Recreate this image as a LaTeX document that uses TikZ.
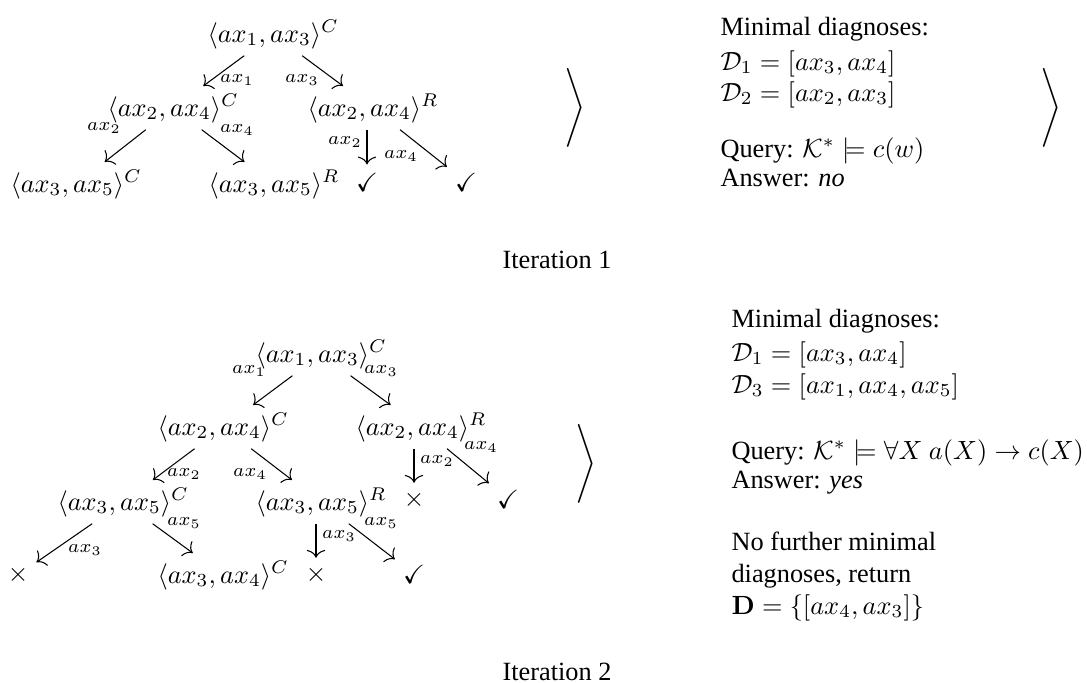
\documentclass[tikz,border=0pt]{standalone}
\usepackage{amsmath,amssymb}
\usepackage[no-math]{fontspec}
\setmainfont{Liberation Serif}
\usetikzlibrary{arrows.meta}

\tikzset{
  tnode/.style={anchor=base west, inner xsep=0pt, inner ysep=2.5pt},
  leaf/.style={inner sep=2.5pt},
  elab/.style={font=\scriptsize, inner sep=0pt},
  txt/.style={anchor=base west, inner sep=0pt},
  tarr/.style={-{Computer Modern Rightarrow[length=3pt,width=7pt]}, shorten >=0.5pt}
}

\begin{document}
\begin{tikzpicture}[x=0.38pt, y=-0.38pt]
  \useasboundingbox (0,0) rectangle (1087,682);
  % iteration 1
  \node[tnode] (t1) at (207,42) {$\langle ax_1, ax_3\rangle^C$};
  \node[tnode] (t2) at (107,116) {$\langle ax_2, ax_4\rangle^C$};
  \node[tnode] (t3) at (307,116) {$\langle ax_2, ax_4\rangle^R$};
  \node[tnode] (t4) at (10,192) {$\langle ax_3, ax_5\rangle^C$};
  \node[tnode] (t5) at (208,192) {$\langle ax_3, ax_5\rangle^R$};
  \node[leaf] (t6) at (367,182) {$\checkmark$};
  \node[leaf] (t7) at (466,182) {$\checkmark$};
  \draw[tarr] (t1) -- (t2);
  \draw[tarr] (t1) -- (t3);
  \draw[tarr] (t2) -- (t4);
  \draw[tarr] (t2) -- (t5);
  \draw[tarr] (t3.south -| t6) -- (t6);
  \draw[tarr] (t3) -- (t7);
  \foreach \x/\y/\s [count=\i] in {237/80/1, 302/80/3, 104/128/2, 237/130/4, 345/142/2, 401/156/4}
    \node[elab] (lt\i) at (\x,\y) {$ax_\s$};
  \node (br1) at (575,108) {$\Bigg\rangle$};
  \node (br2) at (1051,108) {$\Bigg\rangle$};
  \node[txt] (m1) at (720,35) {Minimal diagnoses:};
  \node[txt] (d1) at (720,70) {$\mathcal{D}_1 = [ax_3, ax_4]$};
  \node[txt] (d2) at (720,101) {$\mathcal{D}_2 = [ax_2, ax_3]$};
  \node[txt] (q1) at (720,157) {Query: $\mathcal{K}^* \models c(w)$};
  \node[txt] (a1) at (720,186) {Answer: \emph{no}};
  \node[anchor=base] (it1) at (557,268) {Iteration 1};
  % iteration 2
  \node[tnode] (b1) at (255,362) {$\langle ax_1, ax_3\rangle^C$};
  \node[tnode] (b2) at (157,435) {$\langle ax_2, ax_4\rangle^C$};
  \node[tnode] (b3) at (355,435) {$\langle ax_2, ax_4\rangle^R$};
  \node[tnode] (b4) at (57,510) {$\langle ax_3, ax_5\rangle^C$};
  \node[tnode] (b5) at (255,510) {$\langle ax_3, ax_5\rangle^R$};
  \node[leaf] (b6) at (414,500) {$\times$};
  \node[leaf] (b7) at (508,499) {$\checkmark$};
  \node[leaf] (b8) at (18,575) {$\times$};
  \node[tnode] (b9) at (157,583) {$\langle ax_3, ax_4\rangle^C$};
  \node[leaf] (b10) at (316,575) {$\times$};
  \node[leaf] (b11) at (414,574) {$\checkmark$};
  \draw[tarr] (b1) -- (b2);
  \draw[tarr] (b1) -- (b3);
  \draw[tarr] (b2) -- (b4);
  \draw[tarr] (b2) -- (b5);
  \draw[tarr] (b3.south -| b6) -- (b6);
  \draw[tarr] (b3) -- (b7);
  \draw[tarr] (b4) -- (b8);
  \draw[tarr] (b4) -- (b9);
  \draw[tarr] (b5.south -| b10) -- (b10);
  \draw[tarr] (b5) -- (b11);
  \foreach \x/\y/\s [count=\i] in {249/371/1, 381/371/3, 184/474/2, 250/474/4, 437/461/2, 481/447/4, 85/550/3, 184/523/5, 339/536/3, 381/523/5}
    \node[elab] (lb\i) at (\x,\y) {$ax_\s$};
  \node (br3) at (586,464) {$\Bigg\rangle$};
  \node[txt] (m2) at (731,327) {Minimal diagnoses:};
  \node[txt] (d3) at (731,361) {$\mathcal{D}_1 = [ax_3, ax_4]$};
  \node[txt] (d4) at (731,393) {$\mathcal{D}_3 = [ax_1, ax_4, ax_5]$};
  \node[txt] (q2) at (731,459) {Query: $\mathcal{K}^* \models \forall X\ a(X) \rightarrow c(X)$};
  \node[txt] (a2) at (731,488) {Answer: \emph{yes}};
  \node[txt] (n1) at (731,550) {No further minimal};
  \node[txt] (n2) at (731,582) {diagnoses, return};
  \node[txt] (n3) at (731,614) {$\mathbf{D} = \{[ax_4, ax_3]\}$};
  \node[anchor=base] (it2) at (557,680) {Iteration 2};
\end{tikzpicture}
\end{document}
